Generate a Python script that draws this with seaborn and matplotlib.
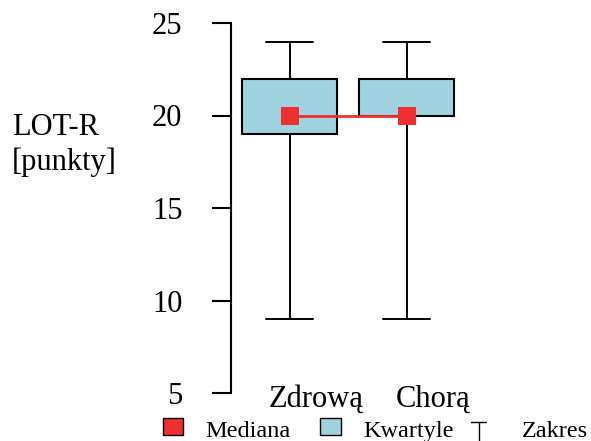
import matplotlib
matplotlib.use("Agg")
import matplotlib.pyplot as plt
import matplotlib.transforms as mtransforms
from matplotlib.patches import Rectangle
from matplotlib.lines import Line2D
import seaborn as sns

# LOT-R summary statistics per group
groups = ["Zdrową", "Chorą"]
medians = [20, 20]
q1 = [19, 20]
q3 = [22, 22]
mins = [9, 9]
maxs = [24, 24]
y_ticks = [5, 10, 15, 20, 25]

sns.set_theme(style="white")
plt.rcParams["font.family"] = ["Liberation Serif", "DejaVu Serif"]

BOX_BLUE = "#9fd3e0"
RED = "#ee3030"

W, H = 591, 441
fig = plt.figure(figsize=(W / 100, H / 100), dpi=100)
ax = fig.add_axes([231 / W, 1 - 393 / H, 234 / W, 370 / H])

stats = [
    dict(med=m, q1=a, q3=b, whislo=lo, whishi=hi, label=g)
    for g, m, a, b, lo, hi in zip(groups, medians, q1, q3, mins, maxs)
]
ax.bxp(
    stats, positions=range(len(groups)), widths=0.81, capwidths=0.41,
    showfliers=False, patch_artist=True,
    boxprops=dict(facecolor=BOX_BLUE, edgecolor="black", linewidth=1.5),
    whiskerprops=dict(color="black", linewidth=1.4),
    capprops=dict(color="black", linewidth=1.4),
    medianprops=dict(visible=False),
)

# medians joined by a line
sns.lineplot(x=list(range(len(groups))), y=medians, ax=ax, color=RED,
             linewidth=2, marker="s", markersize=13, markeredgewidth=0,
             zorder=5)

ax.set_xlim(-0.5, 1.5)
ax.set_ylim(5, 25)
ax.set_yticks(y_ticks)
ax.set_yticklabels([str(t) for t in y_ticks])
ax.set_xticks([])
ax.set_xlabel("")
ax.set_ylabel("")
for side in ("top", "right", "bottom"):
    ax.spines[side].set_visible(False)
ax.spines["left"].set_linewidth(1.5)
ax.spines["left"].set_color("black")
ax.tick_params(axis="y", left=True, length=14, width=1.5, color="black",
               pad=21, labelsize=22, labelcolor="black")

# group labels under the boxes
off = mtransforms.ScaledTranslation(27 / 100, -14 / 100, fig.dpi_scale_trans)
for i, g in enumerate(groups):
    ax.text(i, 0, g, transform=ax.get_xaxis_transform() + off,
            ha="center", va="baseline", fontsize=22, color="black")

fig.text(12 / W, 1 - 145 / H, "LOT-R\n[punkty]", ha="left", va="center",
         fontsize=22, linespacing=1.25, color="black")

# legend row
def px(x, y):
    return x / W, 1 - y / H

fig.patches.append(Rectangle(px(163, 435), 20 / W, 17 / H, facecolor=RED,
                             edgecolor="black", linewidth=1.0,
                             transform=fig.transFigure, figure=fig))
fig.patches.append(Rectangle(px(320, 435), 21 / W, 17 / H, facecolor=BOX_BLUE,
                             edgecolor="black", linewidth=1.0,
                             transform=fig.transFigure, figure=fig))
fig.lines.append(Line2D([471 / W, 486 / W], [1 - 422 / H, 1 - 422 / H],
                        color="black", linewidth=1.0,
                        transform=fig.transFigure, figure=fig))
fig.lines.append(Line2D([478.5 / W, 478.5 / W], [1 - 422 / H, 1 - 441 / H],
                        color="black", linewidth=1.0,
                        transform=fig.transFigure, figure=fig))
for x, label in [(205, "Mediana"), (363, "Kwartyle"), (522, "Zakres")]:
    fig.text(*px(x, 437), label, ha="left", va="baseline", fontsize=17.5,
             color="black")

fig.savefig("out.png", dpi=100)
